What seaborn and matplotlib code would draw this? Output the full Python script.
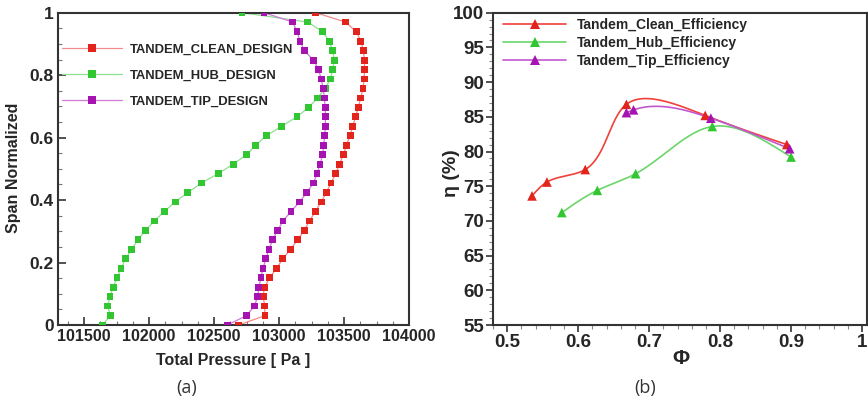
import numpy as np
import pandas as pd
import matplotlib
matplotlib.use("Agg")
import matplotlib.pyplot as plt
from matplotlib.ticker import MultipleLocator, FuncFormatter
import seaborn as sns

# ---- (a) spanwise total pressure profiles ----
span = [1.0, 0.970, 0.939, 0.909, 0.879, 0.848, 0.818, 0.788, 0.758, 0.727,
        0.697, 0.667, 0.636, 0.606, 0.576, 0.545, 0.515, 0.485, 0.455, 0.424,
        0.394, 0.364, 0.333, 0.303, 0.273, 0.242, 0.212, 0.182, 0.152, 0.121,
        0.091, 0.061, 0.030, 0.0]

p_clean = [103283, 103512, 103594, 103630, 103649, 103658, 103658, 103655, 103646, 103629,
           103609, 103590, 103566, 103547, 103518, 103495, 103466, 103436, 103400, 103364,
           103324, 103280, 103234, 103194, 103145, 103087, 103030, 102982, 102930, 102887,
           102878, 102890, 102892, 102691]

p_hub = [102716, 103221, 103336, 103387, 103413, 103426, 103413, 103395, 103357, 103296,
         103229, 103139, 103018, 102903, 102821, 102750, 102647, 102534, 102405, 102298,
         102201, 102119, 102042, 101972, 101916, 101866, 101820, 101785, 101754, 101724,
         101700, 101682, 101703, 101642]

p_tip = [102884, 103106, 103139, 103162, 103194, 103265, 103305, 103324, 103340, 103349,
         103355, 103357, 103357, 103351, 103344, 103336, 103316, 103293, 103265, 103214,
         103158, 103093, 103031, 102989, 102951, 102923, 102899, 102877, 102861, 102845,
         102836, 102811, 102750, 102603]

names_a = ["TANDEM_CLEAN_DESIGN", "TANDEM_HUB_DESIGN", "TANDEM_TIP_DESIGN"]

# ---- (b) efficiency vs flow coefficient ----
phi_clean = [0.535, 0.556, 0.610, 0.668, 0.779, 0.894]
eta_clean = [73.6, 75.6, 77.4, 86.8, 85.2, 81.0]
phi_hub = [0.577, 0.627, 0.681, 0.789, 0.900]
eta_hub = [71.2, 74.4, 76.8, 83.6, 79.2]
phi_tip = [0.668, 0.678, 0.787, 0.898]
eta_tip = [85.6, 86.0, 84.8, 80.4]

names_b = ["Tandem_Clean_Efficiency", "Tandem_Hub_Efficiency", "Tandem_Tip_Efficiency"]

marker_colors = ["#e3241c", "#33c633", "#a514b0"]
line_colors_a = ["#f28a8a", "#8fe08f", "#d07ad8"]
line_colors_b = ["#f0403a", "#6ad66a", "#c258cf"]


def natural_coeffs(t, v):
    """Second derivatives of a natural cubic spline v(t)."""
    k = len(t)
    h = np.diff(t)
    A = np.zeros((k, k))
    r = np.zeros(k)
    A[0, 0] = A[-1, -1] = 1.0
    for i in range(1, k - 1):
        A[i, i - 1] = h[i - 1]
        A[i, i] = 2 * (h[i - 1] + h[i])
        A[i, i + 1] = h[i]
        r[i] = 6 * ((v[i + 1] - v[i]) / h[i] - (v[i] - v[i - 1]) / h[i - 1])
    return np.linalg.solve(A, r)


def eval_spline(t, v, M, ts):
    k = len(t)
    idx = np.clip(np.searchsorted(t, ts) - 1, 0, k - 2)
    t0, t1 = t[idx], t[idx + 1]
    hh = t1 - t0
    a = (t1 - ts) / hh
    b = (ts - t0) / hh
    return (a * v[idx] + b * v[idx + 1]
            + ((a ** 3 - a) * M[idx] + (b ** 3 - b) * M[idx + 1]) * hh ** 2 / 6.0)


def parametric_spline(x, y, sx, sy, n=300):
    """Chord-length parametric natural spline; sx, sy scale data to screen units."""
    x = np.asarray(x, float)
    y = np.asarray(y, float)
    d = np.hypot(np.diff(x) * sx, np.diff(y) * sy)
    t = np.concatenate([[0.0], np.cumsum(d)])
    ts = np.linspace(0, t[-1], n)
    xs = eval_spline(t, x, natural_coeffs(t, x), ts)
    ys = eval_spline(t, y, natural_coeffs(t, y), ts)
    return xs, ys


sns.set_theme(style="white")
plt.rcParams["font.family"] = ["Liberation Sans", "DejaVu Sans"]
plt.rcParams["font.weight"] = "bold"

fig = plt.figure(figsize=(8.68, 4.03), dpi=100)
W, H = 868.0, 403.0
ax1 = fig.add_axes([58 / W, 1 - 325 / H, 351 / W, 312.3 / H])
ax2 = fig.add_axes([493 / W, 1 - 325 / H, 374 / W, 312.3 / H])

# ---------- panel (a) ----------
df_a = pd.concat([
    pd.DataFrame({"p": pc, "span": span, "case": nm})
    for pc, nm in zip([p_clean, p_hub, p_tip], names_a)
])
sns.lineplot(data=df_a, x="p", y="span", hue="case", sort=False, estimator=None,
             palette=dict(zip(names_a, line_colors_a)), linewidth=0.9,
             legend=False, ax=ax1)
sns.scatterplot(data=df_a, x="p", y="span", hue="case",
                palette=dict(zip(names_a, marker_colors)), marker="s", s=24,
                linewidth=0, legend=False, ax=ax1, zorder=3)

ax1.set_xlim(101300, 104000)
ax1.set_ylim(0, 1)
ax1.xaxis.set_major_locator(MultipleLocator(500))
ax1.xaxis.set_minor_locator(MultipleLocator(125))
ax1.yaxis.set_major_locator(MultipleLocator(0.2))
ax1.yaxis.set_minor_locator(MultipleLocator(0.05))
ax1.yaxis.set_major_formatter(FuncFormatter(lambda v, _: f"{v:g}"))
ax1.tick_params(which="major", direction="in", length=6, width=1.2, color="#333333", pad=3)
ax1.tick_params(which="minor", direction="in", length=3, width=0.8, color="#777777")
ax1.tick_params(axis="x", which="major", labelsize=11.5)
ax1.tick_params(axis="y", which="major", labelsize=12.5)
ax1.tick_params(axis="both", which="both", bottom=True, left=True, top=False, right=False)
for t in ax1.get_xticklabels() + ax1.get_yticklabels():
    t.set_fontweight("bold")
for s in ax1.spines.values():
    s.set_color("#333333")
    s.set_linewidth(1.5)

ax1.set_xlabel("Total Pressure [ Pa ]", fontsize=11.5, fontweight="bold")
ax1.xaxis.set_label_coords((233 - 58) / 351, (325 - 360) / 312.3)
ax1.xaxis.label.set_va("center")
ax1.set_ylabel("Span Normalized", fontsize=11.5, fontweight="bold")
ax1.yaxis.set_label_coords((14 - 58) / 351, (325 - 168) / 312.3)
ax1.yaxis.label.set_va("center")

handles_a = [
    plt.Line2D([], [], color=lc, lw=0.9, marker="s", markersize=5.5,
               markerfacecolor=mc, markeredgewidth=0)
    for lc, mc in zip(line_colors_a, marker_colors)
]
ax1.legend(handles_a, names_a, loc="upper left", bbox_to_anchor=(0.012, 0.9),
           frameon=False, handlelength=4.6, handletextpad=0.6, labelspacing=1.05,
           prop={"size": 9.4, "weight": "bold"}, borderaxespad=0, borderpad=0)

# ---------- panel (b) ----------
x_lo, x_hi, y_lo, y_hi = 0.48, 1.007, 55, 100
sx = 374 / (x_hi - x_lo)
sy = 312.3 / (y_hi - y_lo)
sets_b = [(phi_clean, eta_clean), (phi_hub, eta_hub), (phi_tip, eta_tip)]
curves = []
for (px, py), nm in zip(sets_b, names_b):
    xs, ys = parametric_spline(px, py, sx, sy)
    curves.append(pd.DataFrame({"phi": xs, "eta": ys, "case": nm}))
df_curve = pd.concat(curves)
df_pts = pd.concat([pd.DataFrame({"phi": px, "eta": py, "case": nm})
                    for (px, py), nm in zip(sets_b, names_b)])

sns.lineplot(data=df_curve, x="phi", y="eta", hue="case", sort=False, estimator=None,
             palette=dict(zip(names_b, line_colors_b)), linewidth=1.2,
             legend=False, ax=ax2)
sns.scatterplot(data=df_pts, x="phi", y="eta", hue="case",
                palette=dict(zip(names_b, marker_colors)), marker="^", s=48,
                linewidth=0, legend=False, ax=ax2, zorder=3)

ax2.set_xlim(x_lo, x_hi)
ax2.set_ylim(y_lo, y_hi)
ax2.xaxis.set_major_locator(MultipleLocator(0.1))
ax2.xaxis.set_minor_locator(MultipleLocator(0.02))
ax2.yaxis.set_major_locator(MultipleLocator(5))
ax2.yaxis.set_minor_locator(MultipleLocator(1))
ax2.xaxis.set_major_formatter(FuncFormatter(lambda v, _: f"{v:g}"))
ax2.tick_params(which="major", direction="out", length=5, width=1.2, color="#333333",
                labelsize=13.5, pad=1.5)
ax2.tick_params(which="minor", direction="out", length=3, width=0.8, color="#888888")
ax2.tick_params(axis="both", which="both", bottom=True, left=True, top=False, right=False)
for t in ax2.get_xticklabels() + ax2.get_yticklabels():
    t.set_fontweight("bold")
for s in ax2.spines.values():
    s.set_color("#333333")
    s.set_linewidth(1.5)

ax2.set_xlabel("Φ", fontsize=15, fontweight="bold")
ax2.xaxis.set_label_coords((681 - 493) / 374, (325 - 358) / 312.3)
ax2.xaxis.label.set_va("center")
ax2.set_ylabel("η (%)", fontsize=14, fontweight="bold")
ax2.yaxis.set_label_coords((452 - 493) / 374, (325 - 173) / 312.3)
ax2.yaxis.label.set_va("center")

handles_b = [
    plt.Line2D([], [], color=lc, lw=1.2, marker="^", markersize=7,
               markerfacecolor=mc, markeredgewidth=0)
    for lc, mc in zip(line_colors_b, marker_colors)
]
ax2.legend(handles_b, names_b, loc="upper left", bbox_to_anchor=(0.028, 0.983),
           frameon=False, handlelength=4.5, handletextpad=0.8, labelspacing=0.3,
           prop={"size": 10, "weight": "bold"}, borderaxespad=0, borderpad=0)

# ---------- sub-figure captions ----------
fig.text(187 / W, 1 - 388 / H, "(a)", ha="center", va="center", fontsize=13,
         fontweight="normal", family=["Open Sans", "DejaVu Sans"], color="#333333")
fig.text(645 / W, 1 - 388 / H, "(b)", ha="center", va="center", fontsize=13,
         fontweight="normal", family=["Open Sans", "DejaVu Sans"], color="#333333")

fig.savefig("out.png", dpi=100)
